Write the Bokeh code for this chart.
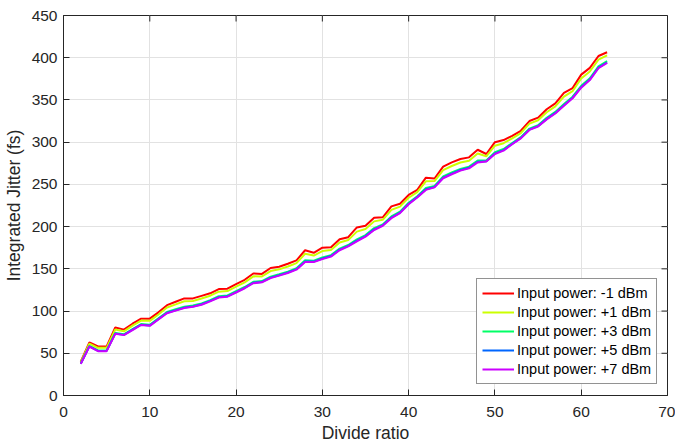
import math
from bokeh.plotting import figure
from bokeh.models import Range1d, FixedTicker, Legend, LegendItem
from bokeh.embed import file_html
from bokeh.resources import INLINE

# ---- data ----
divide_ratio = list(range(2, 64))

jitter_m1dbm = [40, 63, 58, 58, 80.5, 78, 85, 91, 91, 98.5,
                107, 111, 115, 115, 118, 121, 126, 126.5, 132, 137,
                144.5, 144, 151, 152.5, 156, 160, 172, 169, 175, 175.5,
                185, 187.5, 199, 201, 210.5, 211, 224, 227, 237.5, 243.5,
                258, 257, 271, 276, 280, 282, 291, 286, 300, 302.5,
                307.5, 313.5, 325, 329, 339, 346, 358.5, 364, 380, 388,
                402, 406.5]

jitter_p1dbm = [39.2, 61.5, 56.4, 56.4, 78.2, 76.0, 82.8, 88.8, 88.4, 96.0,
                104.2, 107.9, 111.6, 112.0, 114.9, 118.2, 123.0, 123.7, 129.0, 134.0,
                141.1, 141.0, 147.4, 149.4, 152.7, 156.7, 167.8, 165.7, 171.0, 172.2,
                181.1, 184.2, 194.1, 197.1, 206.2, 208.0, 219.8, 223.7, 234.2, 240.8,
                253.7, 253.9, 266.9, 271.8, 275.9, 278.1, 286.5, 283.3, 295.8, 298.8,
                304.5, 310.8, 321.9, 325.9, 335.4, 342.4, 353.9, 360.4, 375.4, 383.7,
                397.7, 402.8]

jitter_p3dbm = [37.9, 58.8, 53.3, 53.3, 74.1, 72.5, 78.6, 84.6, 83.8, 91.3,
                98.9, 102.1, 105.2, 106.5, 109.1, 112.9, 117.5, 118.4, 123.5, 128.5,
                134.7, 135.5, 140.8, 143.6, 146.7, 150.7, 160.1, 159.7, 163.5, 166.2,
                174.0, 178.2, 185.0, 190.0, 198.2, 202.5, 212.1, 217.7, 228.2, 235.9,
                245.7, 248.1, 259.4, 264.1, 268.4, 271.0, 278.3, 278.4, 288.1, 291.9,
                299.0, 305.9, 316.1, 320.1, 328.8, 335.8, 345.3, 353.8, 366.8, 375.7,
                389.7, 395.9]

jitter_p5dbm = [37.6, 58.3, 52.8, 52.8, 73.4, 71.8, 77.9, 83.9, 82.9, 90.4,
                98.0, 101.0, 104.1, 105.5, 108.0, 112.0, 116.5, 117.5, 122.5, 127.5,
                133.6, 134.5, 139.6, 142.5, 145.6, 149.6, 158.7, 158.6, 162.2, 165.1,
                172.7, 177.1, 183.3, 188.7, 196.7, 201.5, 210.7, 216.6, 227.1, 235.0,
                244.2, 247.0, 258.0, 262.7, 267.0, 269.7, 276.8, 277.5, 286.7, 290.6,
                298.0, 305.0, 315.0, 319.0, 327.6, 334.6, 343.8, 352.6, 365.3, 374.2,
                388.2, 394.6]

jitter_p7dbm = [37.5, 58, 52.5, 52.5, 73, 71.5, 77.5, 83.5, 82.5, 90,
                97.5, 100.5, 103.5, 105, 107.5, 111.5, 116, 117, 122, 127,
                133, 134, 139, 142, 145, 149, 158, 158, 161.5, 164.5,
                172, 176.5, 182.5, 188, 196, 201, 210, 216, 226.5, 234.5,
                243.5, 246.5, 257.3, 262, 266.3, 269, 276, 277, 286, 290,
                297.5, 304.5, 314.5, 318.5, 327, 334, 343, 352, 364.5, 373.5,
                387.5, 394]

series_labels = ["Input power: -1 dBm", "Input power: +1 dBm", "Input power: +3 dBm",
                 "Input power: +5 dBm", "Input power: +7 dBm"]
series_colors = ["#ff0000", "#ccff00", "#00ff66", "#0066ff", "#cc00ff"]
series_values = [jitter_m1dbm, jitter_p1dbm, jitter_p3dbm, jitter_p5dbm, jitter_p7dbm]

x_ticks = [0, 10, 20, 30, 40, 50, 60, 70]
y_ticks = [0, 50, 100, 150, 200, 250, 300, 350, 400, 450]

FONT = "Liberation Sans"
AX = "#262626"

p = figure(width=675, height=446,
           x_range=Range1d(x_ticks[0], x_ticks[-1]), y_range=Range1d(y_ticks[0], y_ticks[-1]),
           output_backend="svg", toolbar_location=None,
           min_border_left=63, min_border_right=8,
           min_border_top=15, min_border_bottom=51,
           x_axis_label="Divide ratio", y_axis_label="Integrated Jitter (fs)")

p.background_fill_color = "white"
p.border_fill_color = "white"
p.outline_line_color = AX
p.outline_line_alpha = 1

p.xaxis.ticker = FixedTicker(ticks=x_ticks)
p.yaxis.ticker = FixedTicker(ticks=y_ticks)

for ax in (p.xaxis[0], p.yaxis[0]):
    ax.axis_line_color = AX
    ax.major_tick_line_color = AX
    ax.major_tick_in = 6
    ax.major_tick_out = 0
    ax.minor_tick_line_color = None
    ax.major_label_text_font = FONT
    ax.major_label_text_font_size = "15.5px"
    ax.major_label_text_color = AX
    ax.axis_label_text_font = FONT
    ax.axis_label_text_font_size = "17.5px"
    ax.axis_label_text_font_style = "normal"
    ax.axis_label_text_color = AX

p.xaxis.major_label_standoff = 11
p.xaxis.axis_label_standoff = 3
p.yaxis.major_label_standoff = 6
p.yaxis.axis_label_standoff = 5

p.grid.grid_line_color = "#e2e2e2"
p.grid.grid_line_width = 1

# inward tick marks on the right and top edges of the box (clipped to the frame)
p.scatter([x_ticks[-1]] * len(y_ticks), y_ticks, marker="dash", size=12,
          line_color=AX, line_width=1)
p.scatter(x_ticks, [y_ticks[-1]] * len(x_ticks), marker="dash", size=12, angle=math.pi / 2,
          line_color=AX, line_width=1)

items = []
for lab, col, vals in zip(series_labels, series_colors, series_values):
    r = p.line(divide_ratio, vals, line_color=col, line_width=2)
    items.append(LegendItem(label=lab, renderers=[r]))

legend = Legend(items=items, location=(413, 11))
legend.border_line_color = AX
legend.border_line_width = 1
legend.background_fill_color = "white"
legend.background_fill_alpha = 1
legend.label_text_font = FONT
legend.label_text_font_size = "14.5px"
legend.label_text_color = "#000000"
legend.glyph_width = 32
legend.glyph_height = 18
legend.label_height = 18
legend.label_standoff = 3
legend.spacing = 1
legend.padding = 5
legend.margin = 0
p.add_layout(legend)

open("out.html", "w").write(file_html(p, INLINE))
